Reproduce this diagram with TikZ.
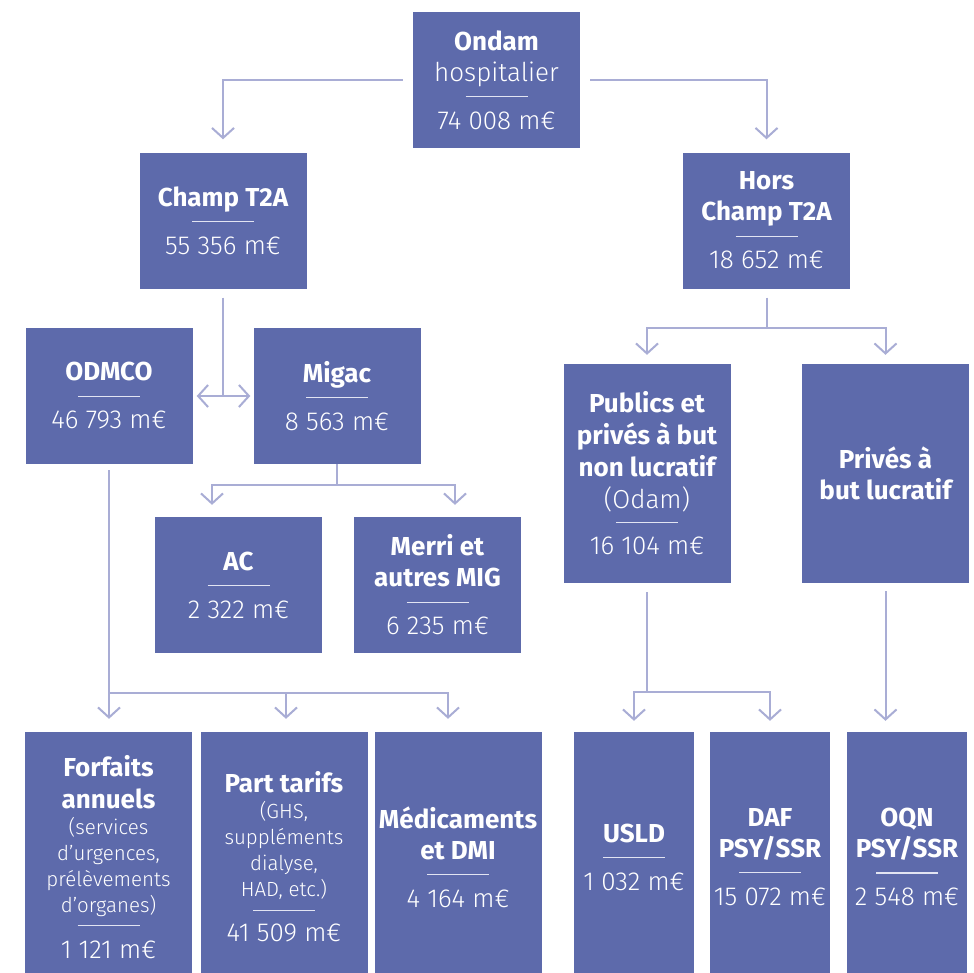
\documentclass[tikz,border=0pt]{standalone}
\usepackage{fontspec}
\setmainfont{Fira Sans}
\newfontfamily\lightfont{Fira Sans Light}
\usetikzlibrary{arrows.meta,calc}
\definecolor{boxc}{HTML}{5D6AAB}
\definecolor{connc}{HTML}{A9ADD5}
\definecolor{sepc}{HTML}{E2E4F2}
\newcommand\hd[1]{{\bfseries #1}}
\newcommand\lt[1]{{\lightfont #1}}
\newcommand\sm[1]{{\lightfont\fontsize{20.5}{26}\selectfont #1}}
\newcommand\sepl{{\color{sepc}\rule{62pt}{1.3pt}}}
\begin{document}
\begin{tikzpicture}[x=1pt,y=-1pt,
  box/.style={fill=boxc,text=white,align=center,inner sep=0pt,
    font=\fontsize{26}{31}\selectfont},
  wA/.style={minimum width=167pt},
  wB/.style={minimum width=120pt},
  hA/.style={minimum height=136pt},
  hB/.style={minimum height=219pt},
  hC/.style={minimum height=250pt},
  conn/.style={draw=connc,line width=2pt},
  arr/.style={-{Straight Barb[length=10pt,width=22pt]}},
  darr/.style={{Straight Barb[length=10pt,width=22pt]}-{Straight Barb[length=10pt,width=22pt]}}]
\useasboundingbox (0,0) rectangle (974,972);
\fill[white] (0,0) rectangle (974,972);

\node[box,wA,hA] (ondam) at (496.5,80)
  {\hd{Ondam}\\\lt{hospitalier}\\[-15pt]\sepl\\[1pt]\lt{74~008 m€}};
\node[box,wA,hA] (champ) at (223,220.5)
  {\hd{Champ T2A}\\[-15pt]\sepl\\[1pt]\lt{55~356 m€}};
\node[box,wA,hA] (hors) at (766.5,220.5)
  {\hd{Hors}\\\hd{Champ T2A}\\[-15pt]\sepl\\[1pt]\lt{18~652 m€}};
\node[box,wA,hA] (odmco) at (109,396)
  {\hd{ODMCO}\\[-15pt]\sepl\\[1pt]\lt{46~793 m€}};
\node[box,wA,hA] (migac) at (337,396)
  {\hd{Migac}\\[-15pt]\sepl\\[1pt]\lt{8~563 m€}};
\node[box,wA,hA] (ac) at (238.5,585)
  {\hd{AC}\\[-15pt]\sepl\\[1pt]\lt{2~322 m€}};
\node[box,wA,hA] (merri) at (437.5,585)
  {\hd{Merri et}\\\hd{autres MIG}\\[-15pt]\sepl\\[1pt]\lt{6~235 m€}};
\node[box,wA,hB] (pub) at (647,473.5)
  {\hd{Publics et}\\[1pt]\hd{privés à but}\\[1pt]\hd{non lucratif}\\[1pt]\lt{(Odam)}\\[-17pt]\sepl\\[1pt]\lt{16~104 m€}};
\node[box,wA,hB] (priv) at (885.5,473.5)
  {\hd{Privés à}\\\hd{but lucratif}};

\node[box,wA,hC] (forf) at (108.5,857)
  {\hd{Forfaits}\\[1pt]\hd{annuels}\\[-5pt]\sm{(services}\\[-5pt]\sm{d’urgences,}\\[-5pt]\sm{prélèvements}\\[-5pt]\sm{d’organes)}\\[-17pt]\sepl\\[1pt]\lt{1~121 m€}};
\node[box,wA,hC] (part) at (284,857)
  {\hd{Part tarifs}\\[-5pt]\sm{(GHS,}\\[-5pt]\sm{suppléments}\\[-5pt]\sm{dialyse,}\\[-5pt]\sm{HAD, etc.)}\\[-17pt]\sepl\\[0pt]\lt{41~509 m€}};
\node[box,wA,hC] (med) at (458,857)
  {\hd{Médicaments}\\\hd{et DMI}\\[-15pt]\sepl\\[1pt]\lt{4~164 m€}};
\node[box,wB,hC] (usld) at (634,857)
  {\hd{USLD}\\[-15pt]\sepl\\[1pt]\lt{1~032 m€}};
\node[box,wB,hC] (daf) at (770,857)
  {\hd{DAF}\\\hd{PSY/SSR}\\[-15pt]\sepl\\[1pt]\lt{15~072 m€}};
\node[box,wB,hC] (oqn) at (907,857)
  {\hd{OQN}\\\hd{PSY/SSR}\\[-15pt]\sepl\\[1pt]\lt{2~548 m€}};

% connectors
\draw[conn,arr,shorten <=10pt,shorten >=13pt] (ondam.west) -| (champ.north);
\draw[conn,arr,shorten <=10pt,shorten >=13pt] (ondam.east) -| (hors.north);

\draw[conn,shorten <=9pt] (champ.south) -- (champ.south |- odmco.east);
\draw[conn,darr,shorten <=4pt,shorten >=3pt] (odmco.east) -- (migac.west);

\coordinate (mj) at ($(migac.south)+(0,21)$);
\draw[conn] (migac.south) -- (mj);
\draw[conn,arr,shorten >=12pt] (mj) -| ([xshift=-26.5pt]ac.north);
\draw[conn,arr,shorten >=12pt] (mj) -| ([xshift=17.5pt]merri.north);

\coordinate (oj) at ($(odmco.south)+(0,229)$);
\draw[conn,arr,shorten <=6pt,shorten >=13pt] (odmco.south) -- (odmco.south |- forf.north);
\draw[conn,arr,shorten >=13pt] (oj) -| ([xshift=2pt]part.north);
\draw[conn,arr,shorten >=13pt] (oj) -| ([xshift=-10pt]med.north);

\coordinate (hj) at ($(hors.south)+(0,39)$);
\draw[conn,shorten <=9pt] (hors.south) -- (hj);
\draw[conn,arr,shorten >=9pt] (hj) -| (pub.north);
\draw[conn,arr,shorten >=9pt] (hj) -| (priv.north);

\coordinate (pj) at ($(pub.south)+(0,109)$);
\draw[conn,shorten <=9pt] (pub.south) -- (pj);
\draw[conn,arr,shorten >=11pt] (pj) -| (usld.north);
\draw[conn,arr,shorten >=11pt] (pj) -| (daf.north);

\draw[conn,arr,shorten <=8pt,shorten >=11pt] (priv.south) -- (priv.south |- oqn.north);
\end{tikzpicture}
\end{document}
